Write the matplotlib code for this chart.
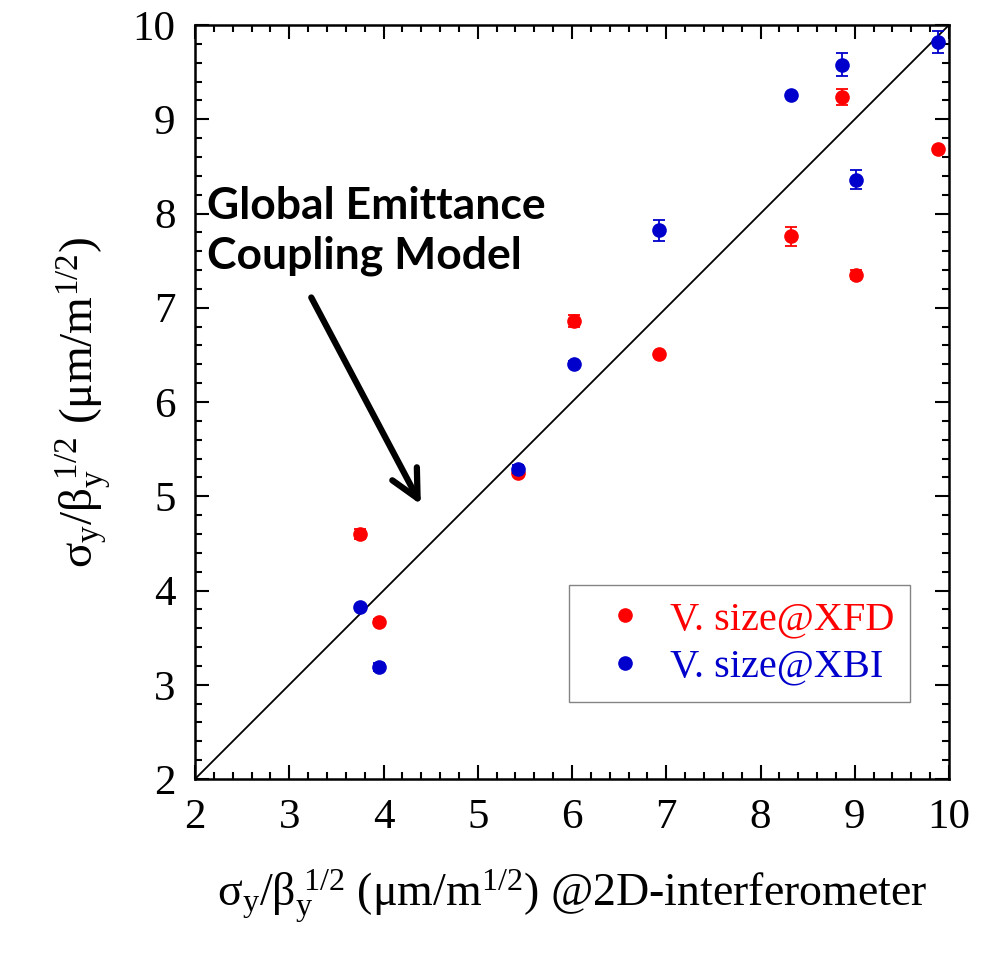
import matplotlib
matplotlib.use("Agg")
import matplotlib.pyplot as plt
from matplotlib.lines import Line2D
from matplotlib.ticker import MultipleLocator

plt.rcParams['font.family'] = ['Liberation Serif', 'DejaVu Serif']
plt.rcParams['mathtext.fontset'] = 'custom'
plt.rcParams['mathtext.rm'] = 'Liberation Serif'
plt.rcParams['mathtext.it'] = 'Liberation Serif:italic'

# sigma_y / beta_y^1/2 from the 2D interferometer
x_interf = [3.75, 3.95, 5.43, 6.02, 6.92, 8.32, 8.87, 9.01, 9.88]

# vertical size at XFD
y_xfd = [4.60, 3.67, 5.25, 6.86, 6.51, 7.76, 9.24, 7.35, 8.68]
err_xfd = [0.05, 0.03, 0.03, 0.06, 0.0, 0.10, 0.085, 0.05, 0.03]

# vertical size at XBI
y_xbi = [3.83, 3.19, 5.29, 6.40, 7.82, 9.26, 9.58, 8.36, 9.82]
err_xbi = [0.0, 0.04, 0.04, 0.03, 0.11, 0.0, 0.12, 0.10, 0.12]

labels = ['V. size@XFD', 'V. size@XBI']
red = '#ff0000'
blue = '#0000cc'

fig = plt.figure(figsize=(9.88, 9.56), dpi=100)
ax = fig.add_axes([195 / 988, 177 / 956, 754 / 988, 754 / 956])

ax.plot([2, 10], [2, 10], color='black', lw=1.3, zorder=1)

ax.errorbar(x_interf, y_xfd, yerr=err_xfd, fmt='o', color=red, ms=9.5,
            elinewidth=1.3, capsize=4.5, capthick=1.3, zorder=3)
ax.errorbar(x_interf, y_xbi, yerr=err_xbi, fmt='o', color=blue, ms=9.5,
            elinewidth=1.3, capsize=4.5, capthick=1.3, zorder=4)

ax.set_xlim(2, 10)
ax.set_ylim(2, 10)
ax.xaxis.set_major_locator(MultipleLocator(1))
ax.yaxis.set_major_locator(MultipleLocator(1))
ax.xaxis.set_minor_locator(MultipleLocator(0.2))
ax.yaxis.set_minor_locator(MultipleLocator(0.2))
ax.tick_params(which='both', direction='in', top=True, right=True, width=1.5)
ax.tick_params(which='major', length=10, labelsize=31, pad=14)
ax.tick_params(which='minor', length=5)
for sp in ax.spines.values():
    sp.set_linewidth(1.8)

lab = r'σ$_\mathrm{y}$/β$_\mathrm{y}^{\ \mathrm{1/2}}$ (μm/m$^\mathrm{1/2}$)'
ax.set_xlabel(lab + ' @2D-interferometer', fontsize=33, labelpad=22)
ax.set_ylabel(lab, fontsize=34, labelpad=14)

handles = [Line2D([], [], ls='none', marker='o', ms=9.5, color=c) for c in (red, blue)]
leg = ax.legend(handles, labels, loc='upper left', bbox_to_anchor=(0.496, 0.257),
                fontsize=29, frameon=True, fancybox=False, edgecolor='#666666',
                borderaxespad=0, handlelength=2.0, handletextpad=0.1,
                labelspacing=0.25, borderpad=0.4)
leg.get_frame().set_linewidth(1.0)
for txt, c in zip(leg.get_texts(), [red, blue]):
    txt.set_color(c)

ax.text(2.127, 7.42, 'Global Emittance\nCoupling Model', family='Lato',
        fontweight='bold', fontsize=32, va='baseline', ha='left', linespacing=1.27)
ax.annotate('', xy=(4.41, 4.886), xytext=(3.22, 7.135),
            arrowprops=dict(arrowstyle='->,head_length=1.0,head_width=0.5',
                            lw=4.5, color='black', mutation_scale=20))

fig.savefig('out.png', dpi=100)
